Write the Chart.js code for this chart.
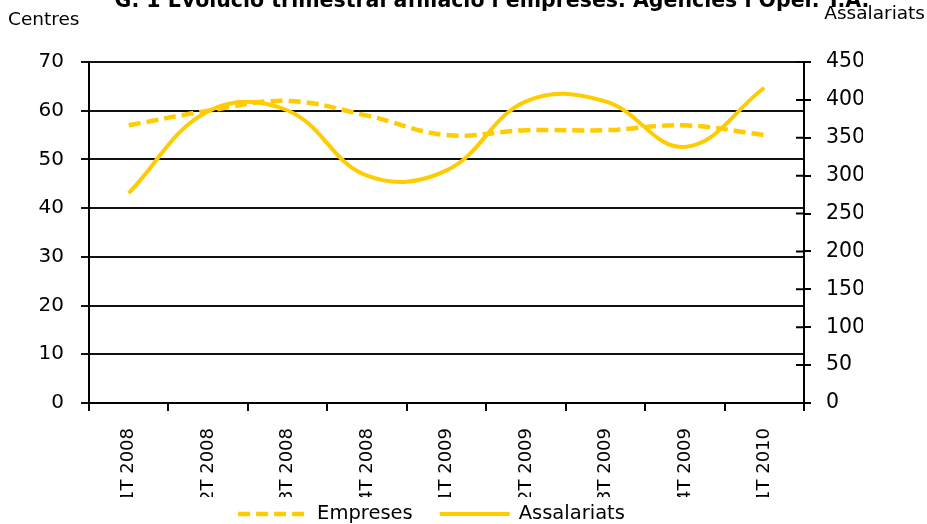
<!DOCTYPE html>
<html lang="ca">
<head>
<meta charset="utf-8">
<title>Evolució trimestral afiliació i empreses</title>
<script src="https://cdn.jsdelivr.net/npm/chart.js@4"></script>
<style>
  html, body { margin: 0; padding: 0; background: #fff; }
</style>
</head>
<body>
<canvas id="grafic" width="927" height="524"></canvas>
<script>
// Dades llegides del gràfic
const trimestres = ['1T 2008', '2T 2008', '3T 2008', '4T 2008', '1T 2009', '2T 2009', '3T 2009', '4T 2009', '1T 2010'];
const empreses = [57, 60, 62, 59, 55, 56, 56, 57, 55];
const assalariats = [277, 385, 386, 300, 307, 398, 398, 338, 416];
const ticksCentres = [0, 10, 20, 30, 40, 50, 60, 70];
const ticksAssalariats = [0, 50, 100, 150, 200, 250, 300, 350, 400, 450];

const titol = 'G. 1 Evolució trimestral afiliació i empreses. Agències i Oper. T.A.';
const font = '"DejaVu Sans", Verdana, sans-serif';
const groc = '#FFCC00';

// Títol (tallat a dalt) i noms dels eixos
const textos = {
    id: 'textos',
    afterDraw(chart) {
        const ctx = chart.ctx;
        ctx.save();
        ctx.fillStyle = '#000';
        ctx.textBaseline = 'alphabetic';
        ctx.textAlign = 'center';
        ctx.font = 'bold 20.5px ' + font;
        ctx.fillText(titol, 492, 7);
        ctx.textBaseline = 'middle';
        ctx.font = '18.5px ' + font;
        ctx.textAlign = 'left';
        ctx.fillText('Centres', 8, 20);
        ctx.textAlign = 'right';
        ctx.fillText('Assalariats', 925, 14);
        ctx.restore();
    }
};

// Marques de l'eix dret creuades (també cap a dins del gràfic)
const marquesCreuades = {
    id: 'marquesCreuades',
    afterDraw(chart) {
        const ctx = chart.ctx;
        const eix = chart.scales.y1;
        const dreta = chart.chartArea.right;
        ctx.save();
        ctx.strokeStyle = '#000';
        ctx.lineWidth = 2;
        ctx.beginPath();
        eix.ticks.forEach(t => {
            const py = eix.getPixelForValue(t.value);
            ctx.moveTo(dreta - 8, py);
            ctx.lineTo(dreta, py);
        });
        ctx.stroke();
        ctx.restore();
    }
};

// Llegenda a sota, amb el traç de cada sèrie
const llegenda = {
    id: 'llegenda',
    afterDraw(chart) {
        const ctx = chart.ctx;
        const mostra = 70, separacio = 9, entre = 27, y = 514;
        ctx.save();
        ctx.font = '19.5px ' + font;
        const amples = chart.data.datasets.map(ds => mostra + separacio + ctx.measureText(ds.label).width);
        const total = amples.reduce((a, b) => a + b, 0) + entre * (amples.length - 1);
        let x = 431.5 - total / 2;
        chart.data.datasets.forEach((ds, i) => {
            ctx.strokeStyle = ds.borderColor;
            ctx.lineWidth = ds.borderWidth;
            ctx.setLineDash(ds.borderDash || []);
            ctx.beginPath();
            ctx.moveTo(x, y);
            ctx.lineTo(x + mostra, y);
            ctx.stroke();
            ctx.setLineDash([]);
            ctx.fillStyle = '#000';
            ctx.textAlign = 'left';
            ctx.textBaseline = 'middle';
            ctx.fillText(ds.label, x + mostra + separacio, y);
            x += amples[i] + entre;
        });
        ctx.restore();
    }
};

// Les etiquetes de l'eix X queden retallades per sota, com a l'original
const retallEtiquetes = {
    id: 'retallEtiquetes',
    afterLayout(chart) {
        const x = chart.scales.x;
        if (x._retallat) return;
        const original = x.drawLabels;
        x.drawLabels = function (area) {
            const ctx = this.ctx;
            ctx.save();
            ctx.beginPath();
            ctx.rect(0, 0, chart.width, 497);
            ctx.clip();
            original.call(this, area);
            ctx.restore();
        };
        x._retallat = true;
    }
};

const ctx = document.getElementById('grafic').getContext('2d');
new Chart(ctx, {
    type: 'line',
    data: {
        labels: trimestres,
        datasets: [
            {
                label: 'Empreses',
                data: empreses,
                yAxisID: 'y',
                borderColor: groc,
                backgroundColor: groc,
                borderWidth: 4.5,
                borderDash: [12, 6],
                pointRadius: 0,
                tension: 0.4,
                fill: false
            },
            {
                label: 'Assalariats',
                data: assalariats,
                yAxisID: 'y1',
                borderColor: groc,
                backgroundColor: groc,
                borderWidth: 4,
                pointRadius: 0,
                tension: 0.4,
                fill: false
            }
        ]
    },
    options: {
        responsive: false,
        animation: false,
        layout: { padding: { top: 62, left: 0, right: 64, bottom: 27 } },
        plugins: {
            tooltip: { enabled: false },
            legend: { display: false }
        },
        scales: {
            x: {
                offset: true,
                afterFit: scale => { scale.height = 94; },
                grid: { offset: true, drawOnChartArea: false, color: '#000', lineWidth: 2, tickLength: 8 },
                border: { color: '#000', width: 2 },
                ticks: { minRotation: 90, maxRotation: 90, padding: 17, color: '#000', font: { family: font, size: 18 } }
            },
            y: {
                position: 'left',
                min: 0,
                max: 70,
                afterFit: scale => { scale.width = 89; },
                afterBuildTicks: axis => { axis.ticks = ticksCentres.map(v => ({ value: v })); },
                grid: { color: '#111', lineWidth: 2, tickLength: 8 },
                border: { color: '#000', width: 2 },
                ticks: { padding: 17, color: '#000', font: { family: font, size: 20 } }
            },
            y1: {
                position: 'right',
                min: 0,
                max: 450,
                afterFit: scale => { scale.width = 59; },
                afterBuildTicks: axis => { axis.ticks = ticksAssalariats.map(v => ({ value: v })); },
                grid: { drawOnChartArea: false, color: '#000', lineWidth: 2, tickLength: 7 },
                border: { color: '#000', width: 2 },
                ticks: { padding: 15, color: '#000', font: { family: font, size: 20.5 } }
            }
        }
    },
    plugins: [textos, marquesCreuades, llegenda, retallEtiquetes]
});
</script>
</body>
</html>
